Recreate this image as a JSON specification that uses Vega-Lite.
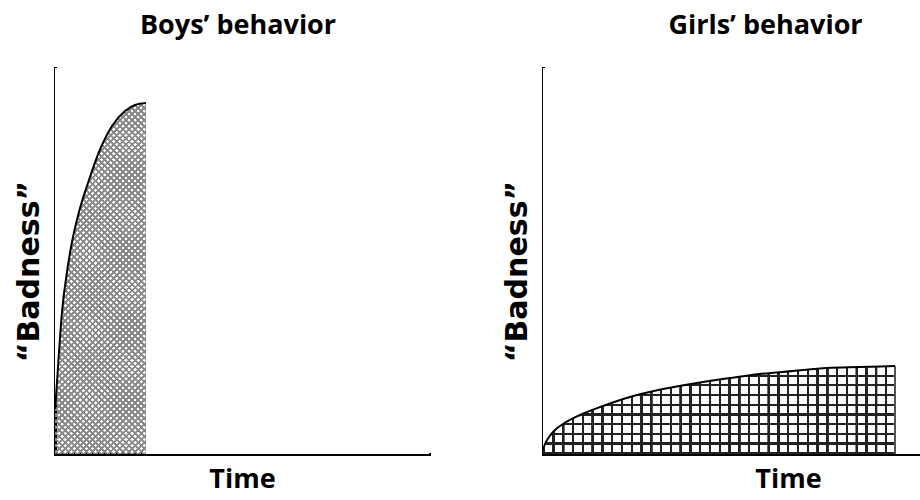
{
  "$schema": "https://vega.github.io/schema/vega-lite/v6.json",
  "padding": {"left": 14, "top": 12, "right": 2, "bottom": 4},
  "background": "white",
  "config": {
    "view": {"stroke": null},
    "font": "Open Sans",
    "title": {"font": "Open Sans", "fontSize": 27, "fontWeight": "bold", "color": "black", "anchor": "middle", "offset": 28},
    "axis": {
      "domain": true, "domainColor": "black", "domainWidth": 3, "domainCap": "square",
      "ticks": false, "labels": false, "grid": false, "zindex": 1,
      "titleFont": "Open Sans", "titleFontWeight": "bold", "titleFontSize": 27, "titleColor": "black"
    }
  },
  "spacing": 73,
  "hconcat": [
    {
      "title": {"text": "Boys’ behavior", "dx": -4},
      "width": 374,
      "height": 386,
      "data": {"values": [
        {"t": 0, "b": 45}, {"t": 1, "b": 58}, {"t": 2, "b": 72}, {"t": 4, "b": 102},
        {"t": 7, "b": 142}, {"t": 12, "b": 182}, {"t": 17, "b": 212}, {"t": 24, "b": 242},
        {"t": 34, "b": 274}, {"t": 44, "b": 302}, {"t": 57, "b": 328}, {"t": 70, "b": 343},
        {"t": 80, "b": 349}, {"t": 91, "b": 351}
      ]},
      "encoding": {
        "x": {"type": "quantitative", "scale": {"domain": [0, 374], "nice": false, "zero": true},
              "axis": {"title": "Time", "titlePadding": 12}},
        "y": {"type": "quantitative", "scale": {"domain": [0, 386], "nice": false, "zero": true},
              "axis": {"title": "“Badness”", "titlePadding": 11, "titleFont": "DejaVu Sans", "titleFontSize": 30, "titleY": 203}}
      },
      "layer": [
        {"mark": {"type": "rule", "clip": true, "strokeWidth": 700, "strokeDash": [1, 3.3], "stroke": "#8a8a8a"},
         "encoding": {"x": {"datum": -400}, "y": {"datum": -400}, "x2": {"datum": 800}, "y2": {"datum": 800}}},
        {"mark": {"type": "rule", "clip": true, "strokeWidth": 700, "strokeDash": [1, 3.3], "stroke": "#8a8a8a"},
         "encoding": {"x": {"datum": -400}, "y": {"datum": 800}, "x2": {"datum": 800}, "y2": {"datum": -400}}},
        {"mark": {"type": "area", "fill": "white", "stroke": "white", "strokeWidth": 1, "interpolate": "monotone", "clip": true},
         "encoding": {"x": {"field": "t"}, "y": {"field": "b"}, "y2": {"datum": 390}}},
        {"mark": {"type": "rect", "fill": "white", "clip": true},
         "encoding": {"x": {"datum": 91}, "x2": {"datum": 380}, "y": {"datum": -5}, "y2": {"datum": 390}}},
        {"mark": {"type": "line", "stroke": "black", "strokeWidth": 2, "interpolate": "monotone"},
         "encoding": {"x": {"field": "t"}, "y": {"field": "b"}}}
      ]
    },
    {
      "title": {"text": "Girls’ behavior", "dx": 34},
      "width": 377,
      "height": 386,
      "data": {"values": [
        {"t": 0, "b": 4}, {"t": 2, "b": 10}, {"t": 6, "b": 17}, {"t": 12, "b": 24},
        {"t": 20, "b": 30}, {"t": 37, "b": 39}, {"t": 60, "b": 48}, {"t": 87, "b": 57},
        {"t": 120, "b": 65}, {"t": 154, "b": 71}, {"t": 187, "b": 76}, {"t": 217, "b": 80},
        {"t": 250, "b": 83}, {"t": 284, "b": 86}, {"t": 317, "b": 87}, {"t": 352, "b": 88}
      ]},
      "encoding": {
        "x": {"type": "quantitative", "scale": {"domain": [0, 377], "nice": false, "zero": true},
              "axis": {"title": "Time", "titlePadding": 12, "titleX": 245}},
        "y": {"type": "quantitative", "scale": {"domain": [0, 386], "nice": false, "zero": true},
              "axis": {"title": "“Badness”", "titlePadding": 11, "titleFont": "DejaVu Sans", "titleFontSize": 30, "titleY": 203}}
      },
      "layer": [
        {"mark": {"type": "rule", "clip": true, "strokeWidth": 400, "strokeDash": [1.5, 8.28], "stroke": "#222"},
         "encoding": {"x": {"datum": 0}, "x2": {"datum": 377}, "y": {"datum": 193}, "y2": {"datum": 193}}},
        {"mark": {"type": "rule", "clip": true, "strokeWidth": 400, "strokeDash": [1.5, 8.2], "stroke": "#222"},
         "encoding": {"x": {"datum": 188}, "x2": {"datum": 188}, "y": {"datum": 0}, "y2": {"datum": 386}}},
        {"mark": {"type": "area", "fill": "white", "stroke": "white", "strokeWidth": 1, "interpolate": "monotone", "clip": true},
         "encoding": {"x": {"field": "t"}, "y": {"field": "b"}, "y2": {"datum": 390}}},
        {"mark": {"type": "rect", "fill": "white", "clip": true},
         "encoding": {"x": {"datum": 352}, "x2": {"datum": 380}, "y": {"datum": -5}, "y2": {"datum": 390}}},
        {"mark": {"type": "rule", "stroke": "#555", "strokeWidth": 1.5},
         "encoding": {"x": {"datum": 352}, "y": {"datum": 0}, "y2": {"datum": 88}}},
        {"mark": {"type": "line", "stroke": "black", "strokeWidth": 2, "interpolate": "monotone"},
         "encoding": {"x": {"field": "t"}, "y": {"field": "b"}}}
      ]
    }
  ]
}
